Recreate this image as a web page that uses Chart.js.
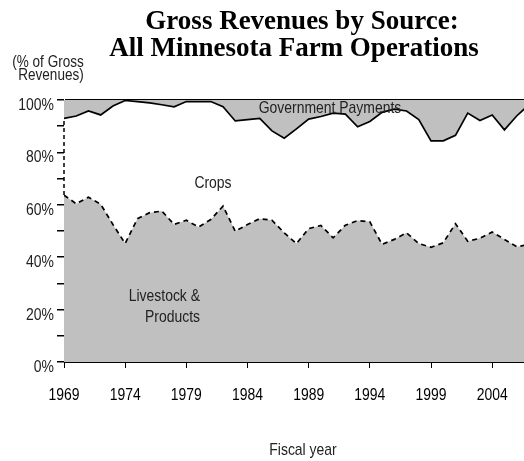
<!DOCTYPE html>
<html>
<head>
<meta charset="utf-8">
<title>Gross Revenues by Source</title>
<script src="https://cdn.jsdelivr.net/npm/chart.js@4/dist/chart.umd.min.js"></script>
<style>
  html, body { margin: 0; padding: 0; background: #fff; }
  canvas { display: block; }
</style>
</head>
<body>
<canvas id="revenueChart" width="524" height="461"></canvas>
<script>
// Share of gross farm revenues (%), fiscal years 1969-2007
var years = [1969, 1970, 1971, 1972, 1973, 1974, 1975, 1976, 1977, 1978,
             1979, 1980, 1981, 1982, 1983, 1984, 1985, 1986, 1987, 1988,
             1989, 1990, 1991, 1992, 1993, 1994, 1995, 1996, 1997, 1998,
             1999, 2000, 2001, 2002, 2003, 2004, 2005, 2006, 2007];

var livestock = [63.7, 60.4, 62.9, 60.2, 52.5, 45.2, 54.7, 57.0, 57.6, 52.5,
                 54.1, 51.5, 54.4, 59.5, 49.9, 52.5, 54.7, 54.1, 49.3, 45.2,
                 50.9, 52.1, 47.4, 52.2, 54.0, 53.5, 44.9, 46.8, 49.3, 45.2,
                 43.8, 45.5, 52.8, 46.1, 47.2, 49.6, 46.8, 44.0, 44.8];

var crops = [29.3, 33.5, 32.9, 34.1, 45.2, 54.6, 44.7, 41.9, 40.6, 44.9,
             45.3, 47.9, 45.0, 37.9, 42.1, 40.0, 38.3, 34.1, 36.1, 43.8,
             41.8, 41.6, 47.6, 42.4, 35.8, 38.3, 50.4, 49.7, 46.5, 47.3,
             40.6, 38.9, 33.7, 48.9, 45.0, 44.7, 41.8, 49.9, 53.4];

var government = [7.0, 6.1, 4.2, 5.7, 2.3, 0.2, 0.6, 1.1, 1.8, 2.6,
                  0.6, 0.6, 0.6, 2.6, 8.0, 7.5, 7.0, 11.8, 14.6, 11.0,
                  7.3, 6.3, 5.0, 5.4, 10.2, 8.2, 4.7, 3.5, 4.2, 7.5,
                  15.6, 15.6, 13.5, 5.0, 7.8, 5.7, 11.4, 6.1, 1.8];

var tickYears = [1969, 1974, 1979, 1984, 1989, 1994, 1999, 2004];
var percentTicks = [0, 20, 40, 60, 80, 100];

var GRAY = '#c0c0c0';
var SANS = "'Liberation Sans', Arial, sans-serif";

function points(values) {
    return years.map(function (yr, i) { return { x: yr, y: values[i] }; });
}

// Arial Narrow look: regular sans squeezed horizontally
function narrowText(ctx, text, x, y, size, align, color) {
    ctx.save();
    ctx.translate(x, y);
    ctx.scale(0.82, 1);
    ctx.font = size + 'px ' + SANS;
    ctx.fillStyle = color || '#222';
    ctx.textAlign = align || 'center';
    ctx.textBaseline = 'alphabetic';
    ctx.fillText(text, 0, 0);
    ctx.restore();
}

// tick labels, titles and in-plot labels
var textPlugin = {
    id: 'chartText',
    afterDraw: function (chart) {
        var ctx = chart.ctx;
        var x = chart.scales.x, y = chart.scales.y;
        ctx.save();

        // dashed left edge of the crops band
        ctx.strokeStyle = '#000';
        ctx.lineWidth = 1.5;
        ctx.setLineDash([4, 3]);
        ctx.beginPath();
        ctx.moveTo(x.getPixelForValue(years[0]), y.getPixelForValue(livestock[0]));
        ctx.lineTo(x.getPixelForValue(years[0]), y.getPixelForValue(livestock[0] + crops[0]));
        ctx.stroke();
        ctx.setLineDash([]);

        tickYears.forEach(function (yr) {
            narrowText(ctx, String(yr), x.getPixelForValue(yr), 400, 17, 'center', '#000');
        });
        percentTicks.forEach(function (p) {
            narrowText(ctx, p + '%', 54, y.getPixelForValue(p) + 10, 17, 'right', '#222');
        });

        ctx.fillStyle = '#000';
        ctx.textAlign = 'center';
        ctx.textBaseline = 'alphabetic';
        ctx.font = "bold 27px 'Liberation Serif', 'Times New Roman', serif";
        ctx.fillText('Gross Revenues by Source:', 302, 29);
        ctx.fillText('All Minnesota Farm Operations', 294, 56);

        narrowText(ctx, '(% of Gross', 48, 67, 16.5, 'center');
        narrowText(ctx, 'Revenues)', 51, 80, 16.5, 'center');
        narrowText(ctx, 'Fiscal year', 303, 455, 17, 'center');

        narrowText(ctx, 'Government Payments', 330, 113, 17, 'center');
        narrowText(ctx, 'Crops', 213, 188, 17, 'center');
        narrowText(ctx, 'Livestock &', 200, 301, 17, 'right');
        narrowText(ctx, 'Products', 200, 322, 17, 'right');
        ctx.restore();
    }
};

new Chart(document.getElementById('revenueChart'), {
    type: 'line',
    data: {
        datasets: [{
            label: 'Livestock & Products',
            data: points(livestock),
            fill: 'origin',
            backgroundColor: GRAY,
            borderColor: '#000',
            borderWidth: 1.7,
            borderDash: [5, 4]
        }, {
            label: 'Crops',
            data: points(crops),
            fill: '-1',
            backgroundColor: '#fff',
            borderColor: '#000',
            borderWidth: 1.7
        }, {
            label: 'Government Payments',
            data: points(government),
            fill: '-1',
            backgroundColor: GRAY,
            borderWidth: 0
        }]
    },
    options: {
        responsive: false,
        animation: false,
        layout: { padding: { top: 100, right: 0, left: 0, bottom: 0 } },
        elements: { point: { radius: 0 }, line: { tension: 0 } },
        plugins: {
            legend: { display: false },
            title: { display: false },
            tooltip: { enabled: false }
        },
        scales: {
            x: {
                type: 'linear',
                min: 1969,
                max: 2006.6,
                afterBuildTicks: function (scale) {
                    scale.ticks = tickYears.map(function (v) { return { value: v }; });
                },
                afterFit: function (scale) { scale.height = 99; },
                grid: { drawOnChartArea: false, tickLength: 6, tickColor: '#000' },
                border: { color: '#000', width: 1 },
                ticks: { display: false }
            },
            y: {
                stacked: true,
                min: 0,
                max: 100,
                afterFit: function (scale) { scale.width = 64; },
                grid: {
                    color: function (c) { return c.tick && c.tick.value === 100 ? '#000' : 'rgba(0,0,0,0)'; },
                    lineWidth: 1.5,
                    tickLength: 7,
                    tickColor: '#000'
                },
                border: { color: '#000', width: 1 },
                ticks: { stepSize: 10, display: false }
            }
        }
    },
    plugins: [textPlugin]
});
</script>
</body>
</html>
